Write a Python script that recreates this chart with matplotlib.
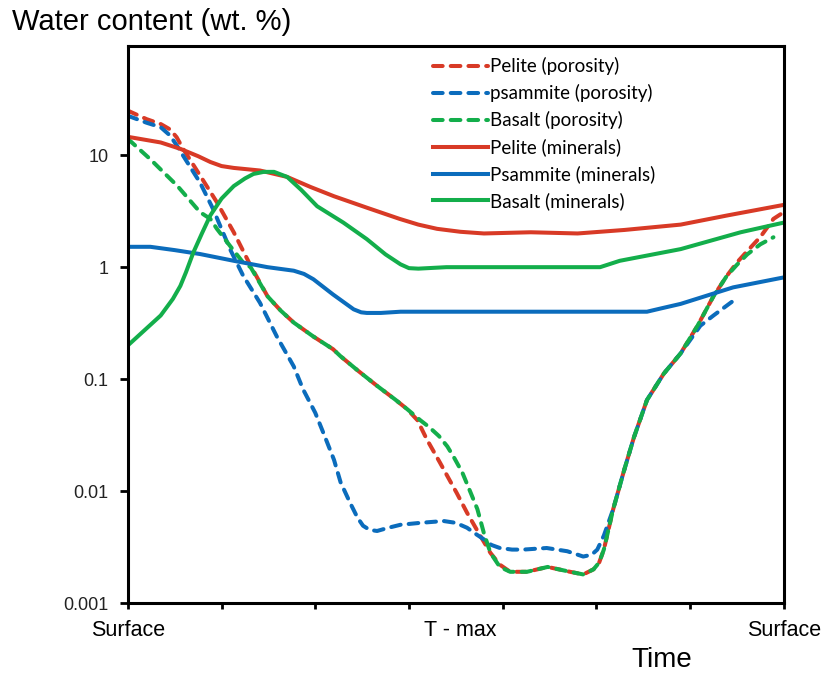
import numpy as np
import matplotlib
matplotlib.use("Agg")
import matplotlib.pyplot as plt
from matplotlib.ticker import FixedLocator, NullFormatter, FixedFormatter, NullLocator
from matplotlib.lines import Line2D

plt.rcParams["font.family"] = ["Liberation Sans", "DejaVu Sans"]

# ---------- data: water content along the P-T-t path ----------
# time axis: 0 = surface, 7 = back to surface
pel_por_t = [0, 0.2, 0.35, 0.45, 0.52, 0.59, 0.77, 0.95, 1.13, 1.31, 1.49, 1.63, 1.77, 1.98, 2.19,
             2.27, 2.45, 2.66, 2.85, 2.98, 3.09, 3.19, 3.33, 3.41, 3.51, 3.62, 3.76, 3.87, 3.97,
             4.08, 4.26, 4.48, 4.72, 4.86, 4.97, 5.03, 5.08, 5.18, 5.29, 5.40, 5.54, 5.72, 5.9,
             6.08, 6.25, 6.39, 6.5, 6.61, 6.75, 6.89, 7.0]
pel_por_w = [25, 21, 19, 17, 14.5, 11.4, 6.6, 3.8, 2.05, 1.03, 0.55, 0.41, 0.32, 0.24, 0.185,
             0.16, 0.12, 0.087, 0.066, 0.054, 0.043, 0.029, 0.018, 0.0136, 0.0096, 0.0064,
             0.0040, 0.0028, 0.0022, 0.0019, 0.0019, 0.0021, 0.0019, 0.0018, 0.0020, 0.0023,
             0.003, 0.0069, 0.0147, 0.03, 0.065, 0.112, 0.17, 0.30, 0.55, 0.83, 1.1, 1.39, 1.86,
             2.7, 3.1]

psa_por_t = [0, 0.2, 0.35, 0.45, 0.52, 0.59, 0.77, 0.91, 1.09, 1.23, 1.41, 1.59, 1.77, 1.87, 2.0,
             2.1, 2.2, 2.27, 2.37, 2.45, 2.51, 2.58, 2.66, 2.78, 2.91, 3.12, 3.37, 3.5, 3.62, 3.72,
             3.80, 3.88, 3.97, 4.1, 4.22, 4.47, 4.69, 4.86, 4.95, 5.01, 5.08, 5.18, 5.29, 5.40,
             5.54, 5.72, 5.9, 6.11, 6.25, 6.46]
psa_por_w = [22.5, 19.5, 17.8, 15, 12.3, 9.9, 5.7, 3.3, 1.45, 0.84, 0.48, 0.24, 0.13, 0.081, 0.05,
             0.031, 0.019, 0.012, 0.0079, 0.0058, 0.0049, 0.0045, 0.0044, 0.0047, 0.0050, 0.0052,
             0.0054, 0.0052, 0.0047, 0.0041, 0.0037, 0.0033, 0.0031, 0.0030, 0.0030, 0.0031,
             0.0029, 0.0026, 0.0027, 0.0030, 0.0040, 0.0069, 0.0147, 0.03, 0.065, 0.112, 0.17,
             0.30, 0.37, 0.50]

bas_por_t = [0, 0.24, 0.53, 0.77, 0.88, 0.95, 1.09, 1.23, 1.31, 1.49, 1.63, 1.77, 1.98, 2.19,
             2.27, 2.45, 2.66, 2.85, 2.98, 3.12, 3.22, 3.32, 3.41, 3.48, 3.57, 3.66, 3.73, 3.80,
             3.87, 3.97, 4.08, 4.26, 4.48, 4.72, 4.86, 4.97, 5.03, 5.08, 5.18, 5.29, 5.40, 5.54,
             5.72, 5.9, 6.08, 6.25, 6.39, 6.5, 6.61, 6.75, 6.89]
bas_por_w = [14, 9.2, 5.3, 3.1, 2.7, 2.2, 1.55, 1.1, 1.0, 0.55, 0.41, 0.32, 0.24, 0.185,
             0.16, 0.12, 0.087, 0.066, 0.054, 0.043, 0.037, 0.031, 0.025, 0.020, 0.0146, 0.0096,
             0.0069, 0.0042, 0.0028, 0.0021, 0.0019, 0.0019, 0.0021, 0.0019, 0.0018, 0.0020,
             0.0023, 0.003, 0.0069, 0.0147, 0.03, 0.065, 0.112, 0.17, 0.30, 0.55, 0.83, 1.05,
             1.3, 1.6, 1.85]

pel_min_t = [0, 0.35, 0.56, 0.75, 0.88, 1.0, 1.13, 1.41, 1.70, 1.95, 2.2, 2.55, 2.9, 3.1, 3.3,
             3.55, 3.8, 4.3, 4.8, 5.3, 5.9, 6.4, 7.0]
pel_min_w = [14.6, 13, 11.4, 9.8, 8.7, 8.0, 7.7, 7.3, 6.4, 5.2, 4.3, 3.4, 2.7, 2.4, 2.2,
             2.07, 2.0, 2.05, 2.0, 2.15, 2.4, 2.9, 3.6]

psa_min_t = [0, 0.24, 0.5, 0.77, 1.13, 1.49, 1.77, 1.88, 1.98, 2.19, 2.41, 2.49, 2.55, 2.7, 2.91,
             4.83, 5.54, 5.7, 5.9, 6.46, 7.0]
psa_min_w = [1.52, 1.52, 1.42, 1.31, 1.14, 1.0, 0.93, 0.87, 0.78, 0.57, 0.42, 0.395, 0.39, 0.39,
             0.40, 0.40, 0.40, 0.43, 0.47, 0.66, 0.81]

bas_min_t = [0, 0.35, 0.48, 0.56, 0.62, 0.70, 0.79, 0.88, 1.0, 1.13, 1.25, 1.34, 1.45, 1.56, 1.70,
             1.85, 2.02, 2.3, 2.55, 2.75, 2.91, 3.0, 3.1, 3.4, 4.8, 5.04, 5.25, 5.9, 6.54, 7.0]
bas_min_w = [0.20, 0.37, 0.52, 0.68, 0.9, 1.36, 2.0, 2.9, 4.1, 5.3, 6.2, 6.8, 7.1, 7.1, 6.4,
             4.9, 3.5, 2.5, 1.78, 1.3, 1.06, 0.98, 0.97, 1.0, 1.0, 1.0, 1.14, 1.45, 2.05, 2.5]

y_ticks = [0.001, 0.01, 0.1, 1, 10]
y_tick_labels = ["0.001", "0.01", "0.1", "1", "10"]
x_label_pos = [0, 3.55, 7]
x_labels = ["Surface", "T - max", "Surface"]

RED, BLUE, GREEN = "#D83A26", "#0B6CBC", "#13AE4B"

fig = plt.figure(figsize=(8.25, 6.73), dpi=100)
ax = fig.add_axes([0.155, 0.104, 0.795, 0.828])

lw = 2.9
dash = dict(linestyle=(0, (2.4, 2.0)), dash_capstyle="round")
ax.plot(pel_por_t, pel_por_w, color=RED, lw=lw, **dash)
ax.plot(psa_por_t, psa_por_w, color=BLUE, lw=lw, **dash)
ax.plot(bas_por_t, bas_por_w, color=GREEN, lw=lw, **dash)
ax.plot(pel_min_t, pel_min_w, color=RED, lw=lw, solid_capstyle="round", solid_joinstyle="round")
ax.plot(psa_min_t, psa_min_w, color=BLUE, lw=lw, solid_capstyle="round", solid_joinstyle="round")
ax.plot(bas_min_t, bas_min_w, color=GREEN, lw=lw, solid_capstyle="round", solid_joinstyle="round")

ax.set_yscale("log")
ax.set_ylim(0.001, 95)
ax.set_xlim(0, 7)
ax.yaxis.set_major_locator(FixedLocator(y_ticks))
ax.yaxis.set_major_formatter(FixedFormatter(y_tick_labels))
ax.yaxis.set_minor_locator(NullLocator())
ax.yaxis.set_minor_formatter(NullFormatter())
ax.tick_params(axis="y", which="major", direction="out", length=6, width=2, pad=8,
               labelsize=13, labelcolor="#222222")

# major ticks every step, labels sit on invisible minor ticks
ax.xaxis.remove_overlapping_locs = False
ax.xaxis.set_major_locator(FixedLocator(np.arange(0, 8)))
ax.xaxis.set_major_formatter(NullFormatter())
ax.xaxis.set_minor_locator(FixedLocator(x_label_pos))
ax.xaxis.set_minor_formatter(FixedFormatter(x_labels))
ax.tick_params(axis="x", which="major", direction="out", length=4.5, width=2)
ax.tick_params(axis="x", which="minor", length=0, pad=12, labelsize=15.5)

for s in ax.spines.values():
    s.set_linewidth(2.2)

# legend with Calibri-like font
handles = [
    Line2D([], [], color=RED, lw=lw, **dash),
    Line2D([], [], color=BLUE, lw=lw, **dash),
    Line2D([], [], color=GREEN, lw=lw, **dash),
    Line2D([], [], color=RED, lw=lw),
    Line2D([], [], color=BLUE, lw=lw),
    Line2D([], [], color=GREEN, lw=lw),
]
labels = ["Pelite (porosity)", "psammite (porosity)", "Basalt (porosity)",
          "Pelite (minerals)", "Psammite (minerals)", "Basalt (minerals)"]
leg = ax.legend(handles, labels, loc="upper left", bbox_to_anchor=(0.44, 1.01),
                frameon=False, handlelength=2.9, handletextpad=0.1, labelspacing=0.48,
                prop={"family": "Lato", "size": 13.5})

fig.text(0.014, 0.988, "Water content (wt. %)", fontsize=21, va="top", ha="left")
fig.text(662 / 825, 1 - 667 / 673, "Time", fontsize=20, va="baseline", ha="center")

fig.savefig("out.png", dpi=100)
